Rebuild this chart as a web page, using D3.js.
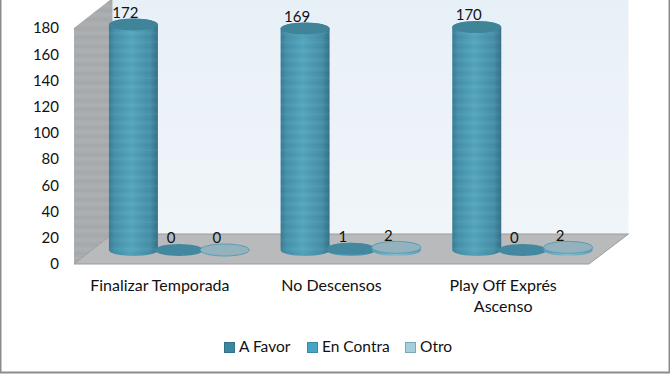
<!DOCTYPE html>
<html><head><meta charset="utf-8">
<script src="https://cdn.jsdelivr.net/npm/d3@7"></script>
<style>html,body{margin:0;padding:0;background:#fff;overflow:hidden}svg{display:block}text{font-family:Lato,"Open Sans",sans-serif;fill:#111}</style>
</head><body><div id="c"></div>
<script>
const categories = [["Finalizar Temporada"],["No Descensos"],["Play Off Exprés","Ascenso"]];
const seriesNames = ["A Favor","En Contra","Otro"];
const aFavor = [172,169,170];
const enContra = [0,1,0];
const otro = [0,2,2];
const yTicks = [0,20,40,60,80,100,120,140,160,180];

const W=670,H=375;
const svg=d3.select("#c").append("svg").attr("width",W).attr("height",H);
const defs=svg.append("defs");
const series=[aFavor,enContra,otro];

const x0=d3.scaleBand().domain(d3.range(categories.length)).range([74,589]);
const x1=d3.scaleBand().domain(d3.range(series.length)).range([-68.5,68.5]);
const y=d3.scaleLinear().domain([0,180]).range([264,28]);
const depth={dx:38.5,dy:-30};
const rx=24.5, ry=6;

function hGrad(id,stops){
  const g=defs.append("linearGradient").attr("id",id).attr("x1",0).attr("x2",1).attr("y1",0).attr("y2",0);
  stops.forEach(s=>g.append("stop").attr("offset",s[0]).attr("stop-color",s[1]));
}
hGrad("body",[[0,"#3a7d96"],[.12,"#4792ab"],[.45,"#55a6be"],[.85,"#468fa7"],[1,"#35728a"]]);
hGrad("bodyO",[[0,"#5a9db6"],[.5,"#86bfd1"],[1,"#5a9db6"]]);
const vg=defs.append("linearGradient").attr("id","wall").attr("x1",0).attr("x2",0).attr("y1",0).attr("y2",1);
vg.append("stop").attr("offset",0).attr("stop-color","#e8f0f7");
vg.append("stop").attr("offset",1).attr("stop-color","#f0f5f9");
const pat=defs.append("pattern").attr("id","bands").attr("patternUnits","userSpaceOnUse").attr("width",10).attr("height",9);
pat.append("rect").attr("width",10).attr("height",3).attr("fill","#000").attr("opacity",.025);
pat.append("rect").attr("y",5).attr("width",10).attr("height",2).attr("fill","#fff").attr("opacity",.03);

// frame
svg.append("rect").attr("x",.5).attr("y",-3).attr("width",W-1).attr("height",H+.5).attr("fill","#fff").attr("stroke","#8c8c8c").attr("stroke-width",2);

const [xa,xb]=x0.range();
const yb=y.range()[0], yt=y.range()[1];
const poly=pts=>"M"+pts.map(p=>p.join(",")).join("L")+"Z";
// back wall
svg.append("path").attr("d",poly([[xa+depth.dx,yt+depth.dy],[xb+depth.dx+1,yt+depth.dy],[xb+depth.dx+1,yb+depth.dy],[xa+depth.dx,yb+depth.dy]])).attr("fill","url(#wall)");
// left wall
const lw=poly([[xa,yt],[xa+depth.dx,yt+depth.dy],[xa+depth.dx,yb+depth.dy],[xa,yb]]);
svg.append("path").attr("d",lw).attr("fill","#aaadb0");
svg.append("path").attr("d",lw).attr("fill","url(#bands)");
// floor
svg.append("path").attr("d",poly([[xa,yb],[xa+depth.dx,yb+depth.dy],[xb+depth.dx+1,yb+depth.dy],[xb,yb]])).attr("fill","#b8babc").attr("stroke","#9a9c9e").attr("stroke-width",1);

const data=series.flatMap((vals,s)=>vals.map((v,c)=>({s,c,v})));
const cx=d=>x0(d.c)+x0.bandwidth()/2+depth.dx/2+x1(d.s)+x1.bandwidth()/2;
const baseY=yb+depth.dy/2+1;
const topY=d=>baseY-(yb-y(d.v));

function cyl(d){
  const c=cx(d),t=topY(d);
  return `M${c-rx},${t}L${c-rx},${baseY}A${rx},${ry} 0 0 0 ${c+rx},${baseY}L${c+rx},${t}A${rx},${ry} 0 0 0 ${c-rx},${t}Z`;
}
const g=svg.append("g");
data.forEach(d=>{
  const n=g.append("g");
  if(d.v>=1){
    n.append("path").attr("d",cyl(d)).attr("fill",d.s===2?"url(#bodyO)":"url(#body)");
    if(d.s===0) n.append("path").attr("d",cyl(d)).attr("fill","url(#bands)");
  }
  const top=n.append("ellipse").attr("cx",cx(d)).attr("cy",topY(d)).attr("rx",rx).attr("ry",ry);
  if(d.s===0) top.attr("fill","#3f8499");
  else if(d.s===1) top.attr("fill","#4488a0");
  else top.attr("fill","#93b2bd").attr("stroke","#5a9db6").attr("stroke-width",1);
});
// value labels
svg.append("g").selectAll("text").data(data).join("text")
  .attr("x",d=>cx(d)-8).attr("y",d=>topY(d)-12).attr("dy","0.35em")
  .attr("text-anchor","middle").attr("font-size",15).text(d=>d.v);

// y axis
const ax=svg.append("g").attr("transform",`translate(${xa-15},0)`)
  .call(d3.axisLeft(y).tickValues(yTicks).tickSize(0).tickPadding(0));
ax.select(".domain").remove();
ax.selectAll("text").attr("font-size",15).attr("font-family","Lato").attr("fill","#111");

// x labels
const xl=svg.append("g").selectAll("text").data(categories).join("text")
  .attr("text-anchor","middle").attr("font-size",16);
xl.each(function(lines,i){
  const t=d3.select(this);
  lines.forEach((l,j)=>t.append("tspan").attr("x",x0(i)+x0.bandwidth()/2).attr("y",291+j*21).text(l));
});

// legend
const legendX=[224,307,405], swFill=["#3c87a0","#46a5c4","#a6cfde"], swStroke=["#33708a","#3a8aa5","#7aa8b8"];
const lg=svg.append("g").selectAll("g").data(seriesNames).join("g").attr("transform",(d,i)=>`translate(${legendX[i]},342)`);
lg.append("rect").attr("x",.5).attr("y",.5).attr("width",10).attr("height",10).attr("fill",(d,i)=>swFill[i]).attr("stroke",(d,i)=>swStroke[i]);
lg.append("text").attr("x",15).attr("y",10).attr("font-size",15.5).text(d=>d);
</script></body></html>
